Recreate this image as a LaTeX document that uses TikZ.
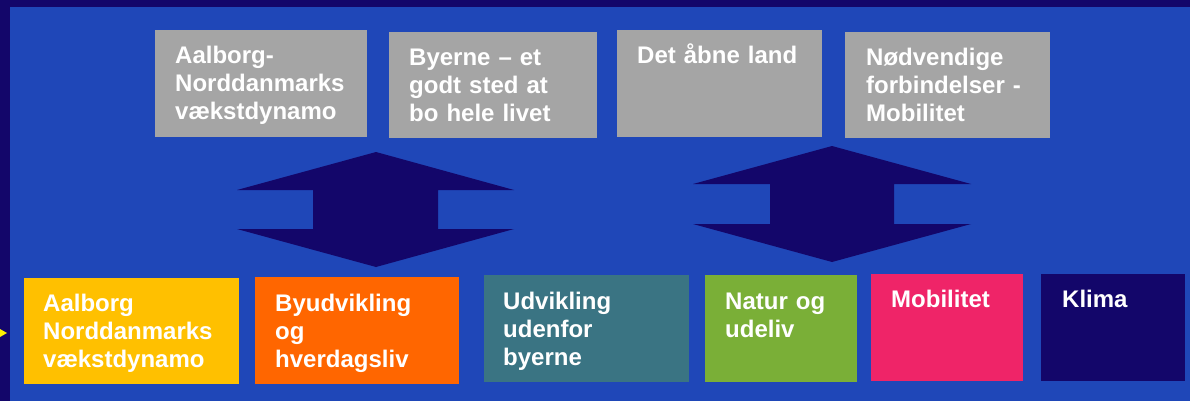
\documentclass[tikz,border=0pt]{standalone}
\usepackage{fontspec}
\setmainfont{Liberation Sans}
\definecolor{bgblue}{HTML}{1F47B8}
\definecolor{navy}{HTML}{13066A}
\definecolor{greybox}{HTML}{A5A5A5}
\definecolor{cyellow}{HTML}{FFC000}
\definecolor{corange}{HTML}{FF6600}
\definecolor{cteal}{HTML}{3A7483}
\definecolor{cgreen}{HTML}{7AAF37}
\definecolor{cpink}{HTML}{EF2468}
\begin{document}
\begin{tikzpicture}[x=1pt,y=-1pt,
  box/.style={draw=none,inner sep=0pt,outer sep=0pt,anchor=north west},
  txt/.style={text=white,font=\bfseries\fontsize{24}{28}\selectfont,inner sep=0pt,anchor=base west,text width=200pt,align=left},
  blockarrow/.style={fill=navy,draw=none}]
\useasboundingbox (0,0) rectangle (1190,401);
\fill[navy] (0,0) rectangle (1190,401);
\fill[bgblue] (10,7) rectangle (1190,401);
\fill[yellow] (0,329) -- (7,333) -- (0,337) -- cycle;
% top grey boxes
\node[box,fill=greybox,minimum width=212pt,minimum height=107pt] (g1) at (155,30) {};
\node[box,fill=greybox,minimum width=208pt,minimum height=106pt] (g2) at (389,32) {};
\node[box,fill=greybox,minimum width=205pt,minimum height=107pt] (g3) at (617,30) {};
\node[box,fill=greybox,minimum width=205pt,minimum height=106pt] (g4) at (845,32) {};
\node[txt] (t1) at ([xshift=20pt,yshift=-34pt]g1.north west) {Aalborg-\\Norddanmarks\\vækstdynamo};
\node[txt] (t2) at ([xshift=20pt,yshift=-34pt]g2.north west) {Byerne – et\\godt sted at\\bo hele livet};
\node[txt] (t3) at ([xshift=20pt,yshift=-34pt]g3.north west) {Det åbne land};
\node[txt] (t4) at ([xshift=21pt,yshift=-34pt]g4.north west) {Nødvendige\\forbindelser -\\Mobilitet};
% bottom boxes
\node[box,fill=cyellow,minimum width=215pt,minimum height=106pt] (b1) at (24,278) {};
\node[box,fill=corange,minimum width=204pt,minimum height=107pt] (b2) at (255,277) {};
\node[box,fill=cteal,minimum width=205pt,minimum height=107pt] (b3) at (484,275) {};
\node[box,fill=cgreen,minimum width=152pt,minimum height=107pt] (b4) at (705,275) {};
\node[box,fill=cpink,minimum width=152pt,minimum height=107pt] (b5) at (871,274) {};
\node[box,fill=navy,minimum width=144pt,minimum height=107pt] (b6) at (1041,274) {};
\node[txt] (s1) at ([xshift=19pt,yshift=-33pt]b1.north west) {Aalborg\\Norddanmarks\\vækstdynamo};
\node[txt] (s2) at ([xshift=20pt,yshift=-34pt]b2.north west) {Byudvikling\\og\\hverdagsliv};
\node[txt] (s3) at ([xshift=19pt,yshift=-34pt]b3.north west) {Udvikling\\udenfor\\byerne};
\node[txt] (s4) at ([xshift=20pt,yshift=-34pt]b4.north west) {Natur og\\udeliv};
\node[txt] (s5) at ([xshift=20pt,yshift=-33pt]b5.north west) {Mobilitet};
\node[txt] (s6) at ([xshift=21pt,yshift=-33pt]b6.north west) {Klima};
% double block arrows
\fill[blockarrow] (376,152) -- (514,190) -- (438,190) -- (438,229) -- (514,229) -- (376,267)
  -- (237,229) -- (313,229) -- (313,190) -- (237,190) -- cycle;
\fill[blockarrow] (832,146) -- (971,184) -- (894,184) -- (894,224) -- (971,224) -- (832,262)
  -- (693,224) -- (770,224) -- (770,184) -- (693,184) -- cycle;
\end{tikzpicture}
\end{document}
